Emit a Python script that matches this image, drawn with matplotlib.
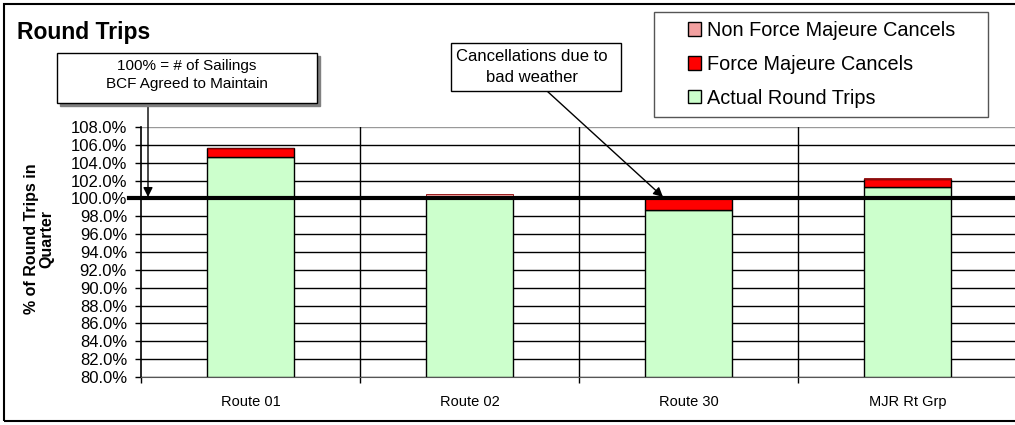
# Round Trips - stacked bar chart

import matplotlib
matplotlib.use("Agg")
import matplotlib.pyplot as plt
import matplotlib.transforms as mtransforms
from matplotlib.patches import Rectangle, Patch
import numpy as np

plt.rcParams['font.family'] = ['Liberation Sans', 'DejaVu Sans']

routes = ['Route 01', 'Route 02', 'Route 30', 'MJR Rt Grp']
actual = [104.6, 100.0, 98.7, 101.3]          # Actual Round Trips (%)
force_majeure = [1.0, 0.05, 1.4, 0.9]          # Force Majeure Cancels (%)
non_force_majeure = [0.0, 0.45, 0.0, 0.05]     # Non Force Majeure Cancels (%)

W, H = 1015, 425

def fx(x):   # pixel -> figure fraction
    return x / W

def fy(y):
    return 1 - y / H

fig = plt.figure(figsize=(W / 100, H / 100), dpi=100)
ax = fig.add_axes([fx(141), fy(377), 876 / W, 250 / H])

x = np.arange(len(routes))
base = 80
bw = 0.395

ax.bar(x, np.array(actual) - base, bw, bottom=base, color='#CCFFCC',
       edgecolor='black', linewidth=1, zorder=3)
bottom2 = np.array(actual)
ax.bar(x, force_majeure, bw, bottom=bottom2, color='#FF0000',
       edgecolor='black', linewidth=1, zorder=3)
bottom3 = bottom2 + np.array(force_majeure)
ax.bar(x, non_force_majeure, bw, bottom=bottom3, color='#F2A0A0',
       edgecolor='#8B0000', linewidth=0.6, zorder=3)

ax.set_xlim(-0.5, 3.5)
ax.set_ylim(80, 108)
yt = np.arange(80, 108.1, 2)
ax.set_yticks(yt)
ax.set_yticklabels(['%.1f%%' % v for v in yt], fontsize=12)
ax.tick_params(axis='y', length=4, width=1, pad=6)

ax.set_xticks(x)
ax.set_xticklabels(routes, fontsize=10.5)
ax.set_xticks(np.arange(-0.5, 3.6, 1), minor=True)
ax.tick_params(axis='x', which='major', length=0, pad=13)
ax.tick_params(axis='x', which='minor', length=4, width=1)

# grid lines
for v in yt[:-1]:
    ax.axhline(v, color='black', lw=1, zorder=1)
ax.axhline(108, color='#999999', lw=1, zorder=1)
for v in np.arange(0.5, 3.6, 1):
    ax.axvline(v, color='black', lw=1, zorder=1)

for s in ['top', 'right']:
    ax.spines[s].set_visible(False)
ax.spines['left'].set_linewidth(1.2)
ax.spines['bottom'].set_color('#555555')

# 100% target line
trans = mtransforms.blended_transform_factory(ax.transAxes, ax.transData)
ax.plot([-0.014, 1.0], [100, 100], transform=trans, color='black', lw=3,
        clip_on=False, zorder=5)

ax.set_ylabel('% of Round Trips in\nQuarter', fontsize=11.5, fontweight='bold',
              linespacing=1.0)
ax.yaxis.set_label_coords((54 - 141) / 876, (377 - 239) / 250)

# title
fig.text(fx(17), fy(33), 'Round Trips', fontsize=16.5, fontweight='bold',
         va='center', ha='left')

# chart border
fig.patches.append(Rectangle((fx(4), fy(421)), fx(1030), fy(4) - fy(421),
                             transform=fig.transFigure, fill=False,
                             edgecolor='black', lw=1.5))

# annotation box 1 (with shadow)
fig.patches.append(Rectangle((fx(60), fy(106)), fx(260), fy(53) - fy(103),
                             transform=fig.transFigure, color='#808080', zorder=2))
fig.patches.append(Rectangle((fx(57), fy(103)), fx(260), fy(53) - fy(103),
                             transform=fig.transFigure, facecolor='white',
                             edgecolor='black', lw=1, zorder=3))
fig.text(fx(187), fy(75), '100% = # of Sailings\nBCF Agreed to Maintain',
         fontsize=11, ha='center', va='center', linespacing=1.45, zorder=4)
ax.annotate('', xy=(fx(148), fy(197)), xycoords='figure fraction',
            xytext=(fx(148), fy(103)), textcoords='figure fraction',
            arrowprops=dict(arrowstyle='-|>', color='black', lw=1,
                            mutation_scale=14, shrinkA=0, shrinkB=0),
            zorder=6)

# annotation box 2
fig.patches.append(Rectangle((fx(451), fy(91)), fx(170), fy(43) - fy(91),
                             transform=fig.transFigure, facecolor='white',
                             edgecolor='black', lw=1, zorder=3))
fig.text(fx(532), fy(67), 'Cancellations due to\nbad weather',
         fontsize=12, ha='center', va='center', linespacing=1.45, zorder=4)
ax.annotate('', xy=(fx(663), fy(197)), xycoords='figure fraction',
            xytext=(fx(547), fy(91)), textcoords='figure fraction',
            arrowprops=dict(arrowstyle='-|>', color='black', lw=1,
                            mutation_scale=14, shrinkA=0, shrinkB=0),
            zorder=6)

# legend
fig.patches.append(Rectangle((fx(654), fy(117)), fx(334), fy(12) - fy(117),
                             transform=fig.transFigure, facecolor='white',
                             edgecolor='#555555', lw=1, zorder=3))
handles = [Patch(facecolor='#F2A0A0', edgecolor='black', label='Non Force Majeure Cancels'),
           Patch(facecolor='#FF0000', edgecolor='black', label='Force Majeure Cancels'),
           Patch(facecolor='#CCFFCC', edgecolor='black', label='Actual Round Trips')]
leg = fig.legend(handles=handles, loc='upper left',
                 bbox_to_anchor=(fx(688), fy(21)), frameon=False, fontsize=14.3,
                 handlelength=0.65, handleheight=0.65, handletextpad=0.3,
                 labelspacing=0.75, borderpad=0, borderaxespad=0)
leg.set_zorder(5)

fig.savefig('out.png', dpi=100)
